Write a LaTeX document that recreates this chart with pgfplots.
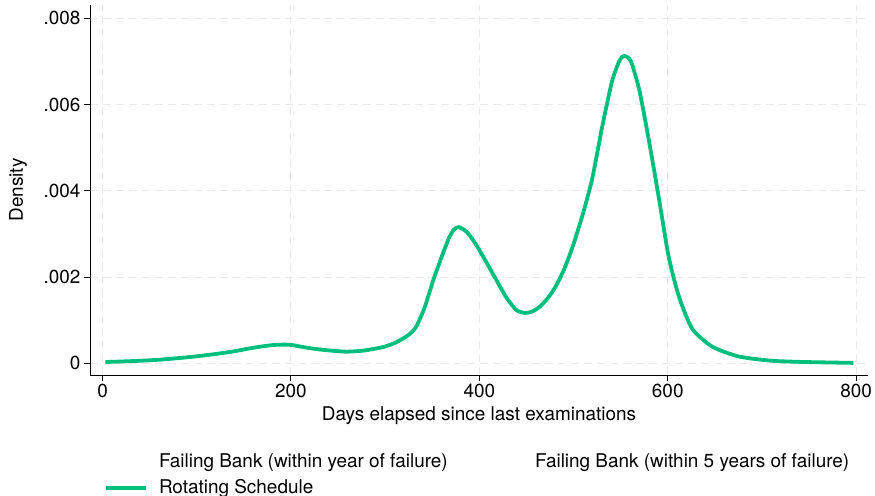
\documentclass[border=0pt]{standalone}
\usepackage{pgfplots}
\pgfplotsset{compat=1.18}
\usepackage{fontspec}
\setmainfont{TeX Gyre Heros}
\definecolor{rotgreen}{RGB}{0,191,125}
\definecolor{gridgray}{RGB}{234,234,234}

\begin{document}
\begin{tikzpicture}
\useasboundingbox (0bp,0bp) rectangle (875bp,496bp);
\begin{axis}[
  at={(90bp,121bp)}, anchor=south west,
  width=778bp, height=370bp, scale only axis,
  xmin=-13.3, xmax=812.6,
  ymin=-0.000271, ymax=0.00831,
  axis x line*=bottom, axis y line*=left,
  axis line style={-, black, line width=0.9bp},
  xtick={0,200,400,600,800},
  ytick={0,0.002,0.004,0.006,0.008},
  yticklabels={0,.002,.004,.006,.008},
  scaled y ticks=false,
  tick align=outside, major tick length=6bp,
  tick style={black, line width=0.9bp},
  /pgf/number format/assume math mode=true,
  ticklabel style={font=\fontsize{19}{22}\selectfont},
  label style={font=\fontsize{19}{22}\selectfont},
  grid=major,
  major grid style={gridgray, line width=1bp, dash pattern=on 8bp off 5bp},
  xlabel={Days elapsed since last examinations},
  xlabel style={at={(axis description cs:0.5,-0.11)}, anchor=center},
  ylabel={Density},
  ylabel style={at={(axis description cs:-0.0925,0.5)}, anchor=center},
  legend columns=2,
  legend cell align=left,
  legend image code/.code={\draw[#1] (0bp,0bp) -- (40bp,0bp);},
  legend style={
    at={(axis description cs:0.018,-0.2054)}, anchor=north west,
    draw=none, fill=none, inner sep=0pt,
    font=\fontsize{19}{22}\selectfont,
    nodes={inner sep=2bp, text height=14bp, text depth=4bp},
    row sep=4bp,
    /tikz/every odd column/.append style={column sep=9bp},
    /tikz/every even column/.append style={column sep=34bp},
  },
]
\addlegendimage{white, opacity=0}
\addlegendentry{Failing Bank (within year of failure)}
\addlegendimage{white, opacity=0}
\addlegendentry{Failing Bank (within 5 years of failure)}

% kernel density of days since last exam, rotating schedule
\addplot[rotgreen, line width=3.8bp, smooth, tension=0.4] coordinates {
(3,0.00003) (30,0.00005) (58,0.00008) (90,0.00014) (118,0.00021)
(140,0.00028) (157,0.00035) (172,0.00040) (185,0.00043) (199,0.00043)
(212,0.00038) (227,0.00033) (245,0.00029) (259,0.00027) (275,0.00029)
(287,0.00033) (300,0.00039) (312,0.00049) (325,0.00066) (333,0.00085)
(342,0.00130) (351,0.00192) (360,0.00247) (368,0.00292) (373,0.00310)
(378,0.00316) (386,0.00306) (393,0.00287) (400,0.00263) (414,0.00209)
(428,0.00155) (439,0.00124) (448,0.00117) (456,0.00120) (464,0.00131)
(473,0.00152) (481,0.00178) (490,0.00218) (499,0.00270) (510,0.00347)
(520,0.00430) (531,0.00555) (541,0.00655) (549,0.00703) (554,0.00713)
(561,0.00700) (570,0.00632) (580,0.00517) (591,0.00378) (601,0.00247)
(612,0.00154) (626,0.00080) (647,0.00039) (675,0.00016) (710,0.00006)
(746,0.00003) (797,0.00001)
};
\addlegendentry{Rotating Schedule}
\end{axis}
\end{tikzpicture}
\end{document}
